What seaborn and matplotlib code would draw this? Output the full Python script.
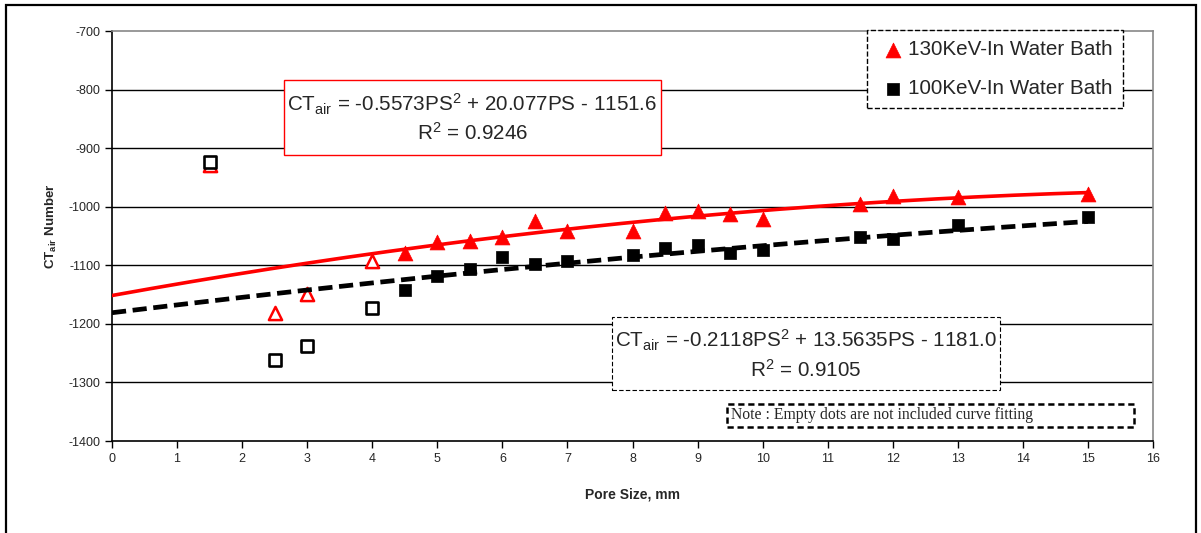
import matplotlib
matplotlib.use('Agg')
import matplotlib.pyplot as plt
from matplotlib.patches import Rectangle
import seaborn as sns
import numpy as np

# pore size (mm) and CT_air numbers, points used in the curve fitting
ps_fit = [4.5, 5, 5.5, 6, 6.5, 7, 8, 8.5, 9, 9.5, 10, 11.5, 12, 13, 15]
kev130_fit = [-1079, -1061, -1058, -1052, -1025, -1041, -1041, -1010, -1008, -1013, -1021, -996, -981, -983, -978]
kev100_fit = [-1142, -1119, -1106, -1085, -1098, -1092, -1082, -1071, -1065, -1079, -1074, -1052, -1055, -1032, -1018]

# empty dots (not included in the fitting)
ps_out = [1.5, 2.5, 3, 4]
kev130_out = [-929, -1182, -1149, -1092]
kev100_out = [-924, -1262, -1238, -1173]

# trendline coefficients as printed on the chart
coef130 = [-0.5573, 20.077, -1151.6]
coef100 = [-0.2118, 13.5635, -1181.0]

xticks = list(range(0, 17))
yticks = list(range(-1400, -699, 100))

sns.set_style('ticks')
plt.rcParams['font.family'] = ['Liberation Sans', 'DejaVu Sans']
plt.rcParams['mathtext.default'] = 'regular'
plt.rcParams['axes.unicode_minus'] = False

fig = plt.figure(figsize=(12.01, 5.33), dpi=100)
ax = fig.add_axes([112 / 1201, 1 - 441 / 533, 1041 / 1201, 410 / 533])

for v in yticks[1:-1]:
    ax.axhline(v, color='black', lw=1, zorder=0)

sns.scatterplot(x=ps_fit, y=kev130_fit, marker='^', s=115, color='red', edgecolor='red',
                linewidth=0.5, label='130KeV-In Water Bath', ax=ax, zorder=3)
sns.scatterplot(x=ps_out, y=kev130_out, marker='^', s=90, facecolor='white', edgecolor='red',
                linewidth=1.8, ax=ax, zorder=3)
sns.scatterplot(x=ps_fit, y=kev100_fit, marker='s', s=75, color='black', edgecolor='black',
                linewidth=0.5, label='100KeV-In Water Bath', ax=ax, zorder=3.2)
sns.scatterplot(x=ps_out, y=kev100_out, marker='s', s=70, facecolor='white', edgecolor='black',
                linewidth=1.9, ax=ax, zorder=3.2)

xs = np.linspace(0, 15, 200)
sns.lineplot(x=xs, y=np.polyval(coef130, xs), color='red', lw=2.6, ax=ax, zorder=4)
sns.lineplot(x=xs, y=np.polyval(coef100, xs), color='black', lw=3.4,
             linestyle=(0, (3, 1.4)), ax=ax, zorder=4)

ax.set_xlim(0, 16)
ax.set_ylim(-1400, -700)
ax.set_xticks(xticks)
ax.set_yticks(yticks)
ax.tick_params(labelsize=9, length=5, width=1, color='black', direction='out')
ax.set_xlabel('Pore Size, mm', fontsize=10, fontweight='bold', labelpad=16)
ax.set_ylabel('CT$_{air}$ Number', fontsize=9.6, fontweight='bold')
ax.yaxis.set_label_coords(-0.051, 0.524)
for s in ['left', 'bottom']:
    ax.spines[s].set_color('black')
    ax.spines[s].set_linewidth(1.2)
for s in ['top', 'right']:
    ax.spines[s].set_color('#888888')
    ax.spines[s].set_linewidth(1.2)

leg = ax.legend(loc='upper left', bbox_to_anchor=(0.7253, 1.0024), borderaxespad=0,
                fontsize=14.9, frameon=True, fancybox=False, framealpha=1,
                borderpad=0.5, handlelength=1.5, handletextpad=0.0, labelspacing=0.95)
leg.get_frame().set_edgecolor('black')
leg.get_frame().set_linestyle('--')
leg.get_frame().set_linewidth(1)
leg.set_zorder(10)

# equation boxes
ax.add_patch(Rectangle((0.1652, 0.6976), 0.3622, 0.1829, transform=ax.transAxes,
                       fill=True, facecolor='white', edgecolor='red', lw=1, zorder=5))
ax.text(0.3463, 0.822, 'CT$_{air}$ = -0.5573PS$^{2}$ + 20.077PS - 1151.6', transform=ax.transAxes,
        ha='center', va='center', fontsize=14.9, zorder=6)
ax.text(0.3463, 0.751, 'R$^{2}$ = 0.9246', transform=ax.transAxes,
        ha='center', va='center', fontsize=14.9, zorder=6)

ax.add_patch(Rectangle((0.4803, 0.1244), 0.3727, 0.178, transform=ax.transAxes,
                       fill=True, facecolor='white', edgecolor='black', lw=0.8,
                       linestyle=(0, (4, 2)), zorder=5))
ax.text(0.6667, 0.2463, 'CT$_{air}$ = -0.2118PS$^{2}$ + 13.5635PS - 1181.0', transform=ax.transAxes,
        ha='center', va='center', fontsize=14.9, zorder=6)
ax.text(0.6667, 0.1732, 'R$^{2}$ = 0.9105', transform=ax.transAxes,
        ha='center', va='center', fontsize=14.9, zorder=6)

ax.add_patch(Rectangle((0.5908, 0.0341), 0.3909, 0.0561, transform=ax.transAxes,
                       fill=True, facecolor='white', edgecolor='black', lw=1.8,
                       linestyle=(0, (2.5, 1.5)), zorder=5))
ax.text(0.5946, 0.0634, 'Note : Empty dots are not included curve fitting', transform=ax.transAxes,
        ha='left', va='center', fontsize=11.3, family=['Liberation Serif', 'DejaVu Serif'], zorder=6)

# outer frame of the chart
fig.patches.append(Rectangle((6 / 1201, -0.1), 1190 / 1201, 1.1 - 5 / 533, transform=fig.transFigure,
                             fill=False, edgecolor='black', lw=1.6))

fig.savefig('out.png', dpi=100)
